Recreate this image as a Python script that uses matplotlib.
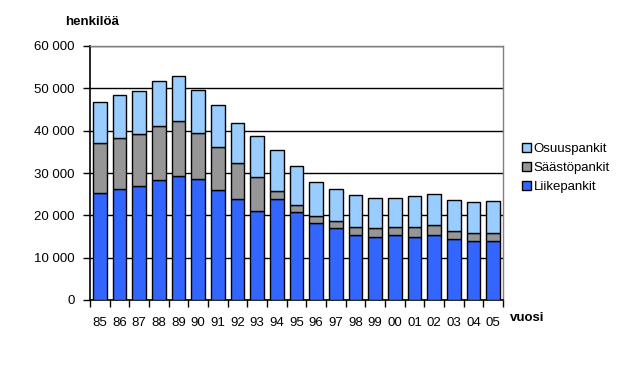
import matplotlib.pyplot as plt
import numpy as np
from matplotlib.ticker import FuncFormatter, FixedLocator

plt.rcParams['font.family'] = ['Liberation Sans', 'DejaVu Sans']

years = ['85', '86', '87', '88', '89', '90', '91', '92', '93', '94', '95',
         '96', '97', '98', '99', '00', '01', '02', '03', '04', '05']

# henkilöä per pankkiryhmä
liikepankit = [25200, 26200, 26900, 28300, 29200, 28500, 25900, 23800, 21000, 23800, 20700,
               18100, 16900, 15400, 15000, 15400, 15000, 15400, 14300, 13900, 13900]
saastopankit = [11800, 12000, 12300, 12700, 13000, 10900, 10200, 8500, 8000, 1900, 1700,
                1700, 1700, 1900, 1900, 1900, 2200, 2200, 1900, 1900, 1900]
osuuspankit = [9700, 10200, 10100, 10700, 10600, 10300, 9900, 9400, 9700, 9700, 9200,
               8000, 7600, 7400, 7100, 6900, 7300, 7400, 7500, 7300, 7500]

fig = plt.figure(figsize=(6.19, 3.70), dpi=100)
ax = fig.add_axes([90/619, 1-300/370, 413/619, 254/370])

x = np.arange(len(years))
liike = np.array(liikepankit)
saasto = np.array(saastopankit)
osuus = np.array(osuuspankit)

w = 0.7
ax.bar(x, liike, w, color='#3366FF', edgecolor='black', linewidth=1, label='Liikepankit', zorder=3)
ax.bar(x, saasto, w, bottom=liike, color='#969696', edgecolor='black', linewidth=1,
       label='Säästöpankit', zorder=3)
ax.bar(x, osuus, w, bottom=liike+saasto, color='#99CCFF', edgecolor='black', linewidth=1,
       label='Osuuspankit', zorder=3)

ax.set_xlim(-0.5, len(years)-0.5)
ax.set_ylim(0, 60000)
ax.set_yticks(np.arange(0, 60001, 10000))
ax.yaxis.set_major_formatter(FuncFormatter(lambda v, p: '{:,.0f}'.format(v).replace(',', ' ')))
ax.yaxis.grid(True, color='black', linewidth=1, zorder=0)

# ticks at category boundaries, labels at centres
ax.xaxis.set_major_locator(FixedLocator(np.arange(-0.5, len(years), 1)))
ax.xaxis.set_minor_locator(FixedLocator(x))
ax.set_xticklabels([])
ax.set_xticklabels(years, minor=True)
ax.tick_params(axis='x', which='major', length=5, width=1, direction='out')
ax.tick_params(axis='x', which='minor', length=0, pad=12, labelsize=9.5)
ax.tick_params(axis='y', length=5, width=1, direction='out', labelsize=9.5, pad=6)

for s in ['left', 'bottom']:
    ax.spines[s].set_color('black')
    ax.spines[s].set_linewidth(1.2)
for s in ['top', 'right']:
    ax.spines[s].set_color('#808080')
    ax.spines[s].set_linewidth(1)

fig.text(65/619, 1-22/370, 'henkilöä', fontsize=9.5, fontweight='bold', va='center', ha='left')
fig.text(510/619, 1-318/370, 'vuosi', fontsize=9.5, fontweight='bold', va='center', ha='left')

h, l = ax.get_legend_handles_labels()
ax.legend(h[::-1], l[::-1], loc='upper left', bbox_to_anchor=(510/619, 1-131/370),
          bbox_transform=fig.transFigure, frameon=False, fontsize=9.5,
          handlelength=0.7, handleheight=0.7, handletextpad=0.2, labelspacing=0.5)

fig.savefig('out.png', dpi=100)
